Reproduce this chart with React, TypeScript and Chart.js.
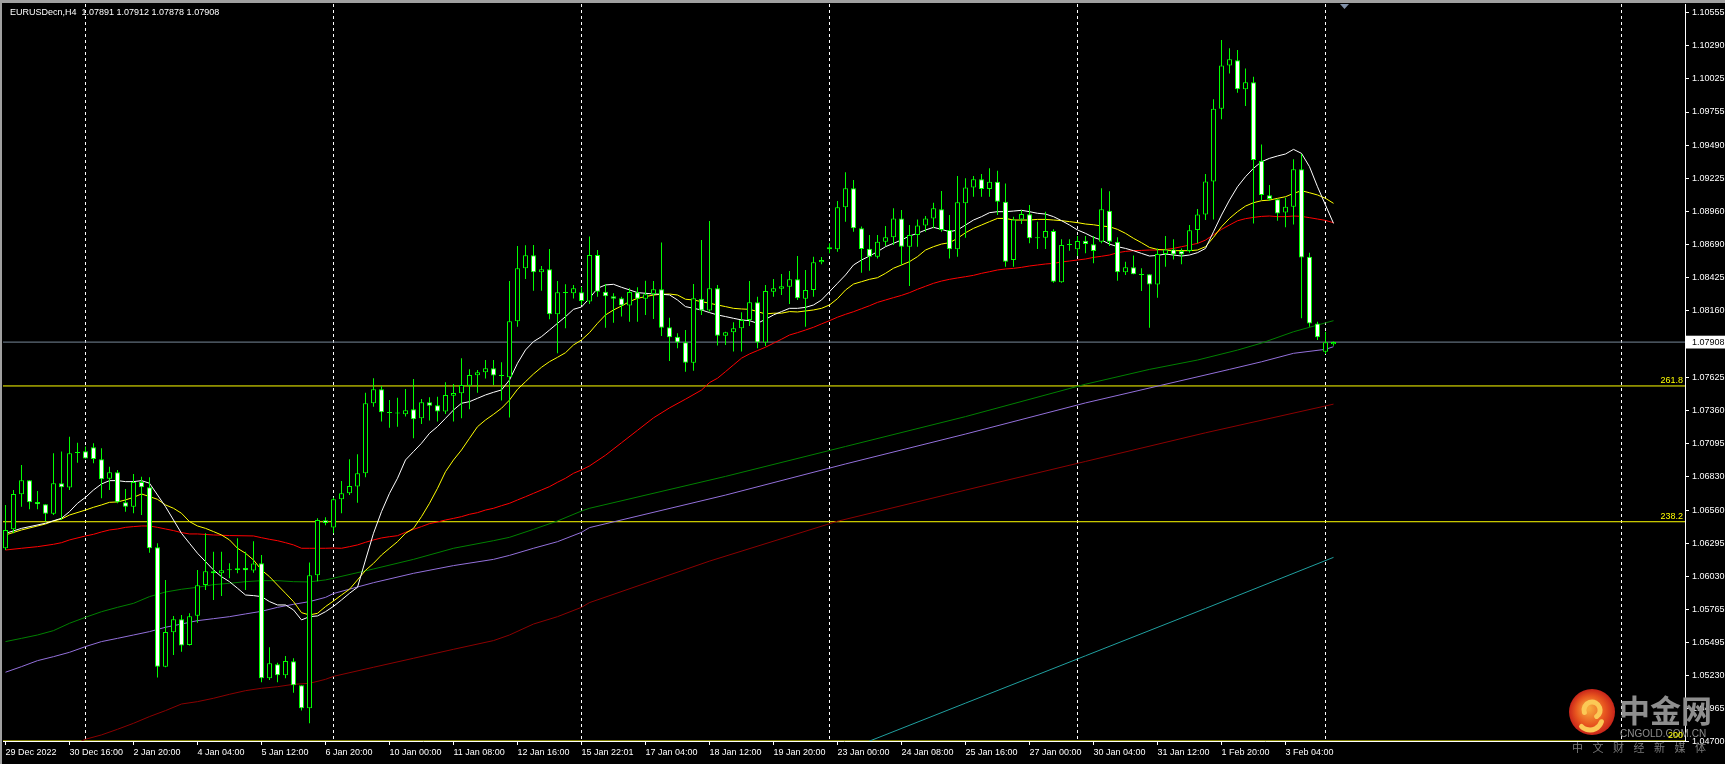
import React, { useEffect, useRef } from "react";
import { Chart, registerables } from "chart.js";
Chart.register(...registerables);

const FONT = "Liberation Sans";
const symbolName = "EURUSDecn";
const timeframe = "H4";

const opens = [
  1.06253, 1.06405, 1.06686, 1.06799, 1.06625, 1.06606, 1.06531, 1.06775, 1.0674, 1.07018,
  1.07031, 1.07064, 1.06967, 1.06812, 1.06863, 1.06622, 1.06587, 1.06785, 1.06742, 1.06261,
  1.05303, 1.05579, 1.05683, 1.05477, 1.05712, 1.05959, 1.06068, 1.06052, 1.06076, 1.06079,
  1.06095, 1.06074, 1.06132, 1.05209, 1.05322, 1.05233, 1.05346, 1.05153, 1.04968, 1.06036,
  1.06478, 1.06419, 1.06646, 1.06694, 1.06748, 1.06855, 1.07417, 1.07529, 1.07342, 1.07334,
  1.07328, 1.07368, 1.07296, 1.07425, 1.07401, 1.0735, 1.07478, 1.07497, 1.07558, 1.07641,
  1.07666, 1.07698, 1.07639, 1.07625, 1.08075, 1.085, 1.08605, 1.08468, 1.08492, 1.08131,
  1.08302, 1.083, 1.08308, 1.08233, 1.08608, 1.08313, 1.08276, 1.0826, 1.08201, 1.08308,
  1.08257, 1.08292, 1.08332, 1.08027, 1.0795, 1.07906, 1.07743, 1.08257, 1.08161, 1.0834,
  1.0796, 1.07987, 1.08019, 1.08086, 1.08228, 1.07904, 1.08313, 1.08337, 1.08353, 1.08412,
  1.08257, 1.08327, 1.08549, 1.08669, 1.08653, 1.0899, 1.09142, 1.08821, 1.08658, 1.08594,
  1.08714, 1.08749, 1.08901, 1.08674, 1.08768, 1.08843, 1.08901, 1.08974, 1.08808, 1.08653,
  1.09022, 1.0915, 1.09215, 1.09137, 1.09196, 1.09035, 1.08567, 1.08893, 1.08934, 1.08741,
  1.08746, 1.088, 1.08388, 1.08687, 1.08653, 1.08722, 1.08693, 1.08714, 1.08963, 1.08714,
  1.08468, 1.08508, 1.08449, 1.08452, 1.08371, 1.08615, 1.08652, 1.08639, 1.08639, 1.08808,
  1.08933, 1.09198, 1.09782, 1.10129, 1.1017, 1.09937, 1.09993, 1.09364, 1.09086, 1.09054,
  1.08949, 1.08995, 1.09295, 1.08594, 1.08058, 1.07831, 1.07891,
];
const highs = [
  1.06601, 1.06721, 1.06922, 1.06799, 1.06713, 1.06606, 1.07015, 1.07029, 1.07149, 1.07101,
  1.07069, 1.07096, 1.07056, 1.06908, 1.06882, 1.06729, 1.0685, 1.06828, 1.06823, 1.06293,
  1.05999, 1.0571, 1.05718, 1.05731, 1.06079, 1.06373, 1.06226, 1.06226, 1.06132, 1.06333,
  1.06226, 1.06309, 1.06199, 1.05458, 1.05335, 1.05389, 1.0537, 1.05153, 1.06138, 1.06494,
  1.06502, 1.0666, 1.06793, 1.06967, 1.07007, 1.07502, 1.07617, 1.07556, 1.07443, 1.07462,
  1.07532, 1.07612, 1.07451, 1.07465, 1.0747, 1.07585, 1.07572, 1.07778, 1.0769, 1.07684,
  1.07765, 1.07765, 1.07746, 1.08399, 1.0868, 1.08685, 1.08688, 1.08519, 1.08655, 1.08399,
  1.08372, 1.08367, 1.08353, 1.08755, 1.08648, 1.08375, 1.083, 1.08273, 1.0834, 1.08348,
  1.08401, 1.08399, 1.08707, 1.08104, 1.07979, 1.08005, 1.08375, 1.08728, 1.0888, 1.08367,
  1.07992, 1.08067, 1.08147, 1.08399, 1.08273, 1.08367, 1.08415, 1.08455, 1.08479, 1.08599,
  1.08487, 1.08594, 1.08591, 1.08701, 1.0904, 1.09271, 1.09209, 1.08835, 1.08768, 1.08768,
  1.0884, 1.08982, 1.08968, 1.08848, 1.08893, 1.0892, 1.09027, 1.09121, 1.08928, 1.09241,
  1.09223, 1.09241, 1.09257, 1.09303, 1.09284, 1.09182, 1.08915, 1.08968, 1.09009, 1.08875,
  1.08955, 1.08813, 1.08733, 1.08733, 1.0876, 1.0876, 1.0876, 1.09142, 1.09118, 1.08749,
  1.08553, 1.08604, 1.085, 1.08452, 1.0866, 1.08759, 1.08733, 1.0866, 1.08848, 1.08976,
  1.09257, 1.09857, 1.10333, 1.10266, 1.10252, 1.10105, 1.10038, 1.09495, 1.09169, 1.09054,
  1.09067, 1.09375, 1.09418, 1.08626, 1.08072, 1.07992, 1.07912,
];
const lows = [
  1.0624, 1.06373, 1.06587, 1.06566, 1.06566, 1.06467, 1.0652, 1.0648, 1.06721, 1.0694,
  1.06973, 1.06935, 1.06654, 1.06721, 1.06614, 1.06547, 1.06534, 1.0652, 1.06218, 1.05215,
  1.05298, 1.05397, 1.05423, 1.05472, 1.05656, 1.05918, 1.05838, 1.0587, 1.06012, 1.06052,
  1.05918, 1.06057, 1.05177, 1.05196, 1.05177, 1.05209, 1.05094, 1.0495, 1.04848, 1.05988,
  1.06437, 1.06373, 1.06534, 1.06681, 1.06619, 1.06823, 1.0739, 1.0727, 1.07221, 1.07229,
  1.0731, 1.07136, 1.07251, 1.07278, 1.0727, 1.07331, 1.0727, 1.07296, 1.07368, 1.07502,
  1.07615, 1.07564, 1.0744, 1.07302, 1.08032, 1.08415, 1.08321, 1.08321, 1.08091, 1.07818,
  1.08019, 1.08259, 1.08206, 1.08214, 1.08273, 1.08024, 1.08064, 1.08113, 1.08072, 1.08072,
  1.08126, 1.08094, 1.07957, 1.07757, 1.07858, 1.07671, 1.07679, 1.08126, 1.08153, 1.0788,
  1.07885, 1.07832, 1.07832, 1.08038, 1.07858, 1.07877, 1.08273, 1.08286, 1.08214, 1.08246,
  1.08032, 1.08273, 1.08533, 1.08621, 1.08634, 1.08875, 1.08794, 1.08465, 1.08481, 1.0858,
  1.0868, 1.08687, 1.08527, 1.08358, 1.08674, 1.08794, 1.08821, 1.08794, 1.0858, 1.08594,
  1.08746, 1.09075, 1.09075, 1.09075, 1.08928, 1.08513, 1.08513, 1.08856, 1.08701, 1.08655,
  1.08655, 1.08385, 1.08385, 1.08642, 1.08599, 1.08621, 1.0854, 1.08701, 1.0868, 1.08401,
  1.08446, 1.08452, 1.08318, 1.08024, 1.08264, 1.08513, 1.08572, 1.08532, 1.08626, 1.08701,
  1.08888, 1.08893, 1.09696, 1.10065, 1.0991, 1.09803, 1.08861, 1.09048, 1.09043, 1.08883,
  1.08829, 1.08853, 1.08099, 1.08032, 1.07925, 1.07812, 1.07878,
];
const closes = [
  1.064, 1.06689, 1.06799, 1.06622, 1.06606, 1.06531, 1.06775, 1.06742, 1.07015, 1.07023,
  1.06973, 1.0697, 1.06807, 1.06863, 1.06622, 1.06587, 1.06785, 1.06742, 1.06253, 1.05303,
  1.05581, 1.05683, 1.05472, 1.05707, 1.05956, 1.06068, 1.06052, 1.06076, 1.06077, 1.06092,
  1.06076, 1.0613, 1.05209, 1.0533, 1.05233, 1.05348, 1.05153, 1.04968, 1.06036, 1.0648,
  1.06456, 1.06646, 1.06694, 1.06753, 1.06855, 1.07417, 1.07529, 1.07344, 1.07339, 1.07336,
  1.0736, 1.07288, 1.07425, 1.07398, 1.0735, 1.07483, 1.075, 1.07564, 1.07644, 1.07666,
  1.07698, 1.07639, 1.07636, 1.08075, 1.085, 1.08605, 1.08468, 1.08492, 1.08131, 1.08308,
  1.08303, 1.0834, 1.08238, 1.08608, 1.08313, 1.08276, 1.08257, 1.08201, 1.08311, 1.08257,
  1.08292, 1.08332, 1.08024, 1.07947, 1.07904, 1.07743, 1.0826, 1.08161, 1.0834, 1.0796,
  1.07987, 1.08019, 1.08086, 1.08228, 1.07904, 1.08319, 1.0834, 1.08356, 1.08412, 1.0826,
  1.08327, 1.08549, 1.08567, 1.08653, 1.0899, 1.09142, 1.08821, 1.08655, 1.08594, 1.08714,
  1.08749, 1.08901, 1.08674, 1.08768, 1.08843, 1.08901, 1.08982, 1.08808, 1.08653, 1.0903,
  1.0915, 1.09215, 1.09137, 1.09196, 1.09035, 1.08554, 1.08893, 1.08936, 1.08741, 1.08742,
  1.088, 1.08393, 1.08687, 1.0869, 1.0872, 1.08695, 1.08639, 1.08974, 1.08714, 1.08468,
  1.08508, 1.08452, 1.08446, 1.08371, 1.08615, 1.08652, 1.08612, 1.08612, 1.08805, 1.08933,
  1.09198, 1.09782, 1.10129, 1.10178, 1.09937, 1.09993, 1.09369, 1.09089, 1.09056, 1.08941,
  1.08995, 1.09295, 1.08588, 1.08058, 1.07946, 1.07906, 1.07908,
];

// fast MA (white)
const whiteIdx = [0, 2, 5, 7, 8, 9, 10, 11, 12, 13, 14, 15, 16, 17, 18, 19, 20, 21, 22, 23, 24, 25, 26, 27, 28, 29, 30, 31, 32, 33, 34, 35, 36, 37, 38, 39, 40, 41, 42, 43, 44, 45, 46, 47, 48, 49, 50, 51, 52, 53, 54, 55, 56, 57, 58, 59, 60, 61, 62, 63, 64, 65, 66, 67, 68, 69, 70, 71, 72, 73, 74, 75, 76, 77, 78, 79, 80, 81, 82, 83, 84, 85, 86, 87, 88, 89, 90, 91, 92, 93, 94, 95, 96, 97, 98, 99, 100, 101, 102, 103, 104, 105, 106, 107, 108, 109, 110, 111, 112, 113, 114, 115, 116, 117, 118, 119, 120, 121, 122, 123, 124, 125, 126, 127, 128, 129, 130, 131, 132, 133, 134, 135, 136, 137, 138, 139, 140, 141, 142, 143, 144, 145, 146, 147, 148, 149, 150, 151, 152, 153, 154, 155, 156, 157, 158, 159, 160, 161, 162, 163, 164, 165, 166];
const whiteVal = [1.06373, 1.06413, 1.06454, 1.06494, 1.06547, 1.06614, 1.06662, 1.06721, 1.06769, 1.06796, 1.06796, 1.06788, 1.06788, 1.06796, 1.06775, 1.06681, 1.06587, 1.0648, 1.06373, 1.06293, 1.06213, 1.06146, 1.06079, 1.06025, 1.05985, 1.05932, 1.05878, 1.05873, 1.05865, 1.05825, 1.05798, 1.05798, 1.05758, 1.05678, 1.05704, 1.0571, 1.05744, 1.05787, 1.05838, 1.05892, 1.0594, 1.06159, 1.06373, 1.06547, 1.06694, 1.06815, 1.06962, 1.07029, 1.07096, 1.07176, 1.0723, 1.07296, 1.07363, 1.07417, 1.0743, 1.07457, 1.07484, 1.07505, 1.07524, 1.07604, 1.07738, 1.07845, 1.07912, 1.07952, 1.08005, 1.08059, 1.08112, 1.08171, 1.0819, 1.0826, 1.0834, 1.08367, 1.08372, 1.08348, 1.08327, 1.08305, 1.083, 1.08294, 1.08292, 1.08287, 1.08246, 1.08193, 1.08179, 1.08166, 1.08145, 1.08126, 1.08113, 1.08099, 1.08086, 1.0808, 1.08059, 1.08091, 1.08126, 1.08153, 1.08179, 1.08179, 1.08187, 1.08206, 1.08246, 1.08313, 1.0838, 1.08447, 1.08527, 1.08567, 1.08599, 1.08634, 1.08674, 1.08701, 1.08728, 1.0876, 1.08781, 1.08808, 1.08829, 1.08813, 1.08794, 1.08808, 1.08848, 1.08888, 1.08915, 1.08947, 1.08955, 1.08955, 1.0896, 1.08966, 1.08955, 1.08942, 1.08936, 1.08915, 1.08883, 1.08848, 1.08808, 1.08781, 1.08749, 1.08727, 1.08695, 1.08674, 1.0866, 1.08642, 1.0862, 1.08599, 1.08604, 1.08615, 1.08607, 1.08599, 1.08607, 1.08626, 1.0866, 1.08794, 1.08928, 1.09048, 1.09155, 1.09236, 1.09303, 1.09356, 1.09383, 1.09402, 1.09418, 1.09455, 1.09423, 1.09316, 1.09155, 1.09008, 1.08861];

// MA (yellow)
const yellowIdx = [0, 2, 5, 6, 7, 8, 10, 11, 12, 13, 14, 15, 16, 17, 18, 19, 20, 21, 22, 23, 24, 25, 26, 27, 28, 29, 30, 31, 32, 33, 34, 35, 36, 37, 38, 39, 40, 41, 42, 43, 44, 45, 46, 47, 48, 49, 50, 51, 52, 53, 54, 55, 56, 57, 58, 59, 60, 61, 62, 63, 64, 65, 66, 67, 68, 69, 70, 71, 72, 73, 74, 75, 76, 77, 78, 79, 80, 81, 82, 83, 84, 85, 86, 87, 88, 89, 90, 91, 92, 93, 94, 95, 96, 97, 98, 99, 100, 101, 102, 103, 104, 105, 106, 107, 108, 109, 110, 111, 112, 113, 114, 115, 116, 117, 118, 119, 120, 121, 122, 123, 124, 125, 126, 127, 128, 129, 130, 131, 132, 133, 134, 135, 136, 137, 138, 139, 140, 141, 142, 143, 144, 145, 146, 147, 148, 149, 150, 151, 152, 153, 154, 155, 156, 157, 158, 159, 160, 161, 162, 163, 164, 165, 166];
const yellowVal = [1.0636, 1.064, 1.06448, 1.06472, 1.06488, 1.0652, 1.0656, 1.06582, 1.06601, 1.06622, 1.06625, 1.06641, 1.06662, 1.06689, 1.06668, 1.06646, 1.06601, 1.06574, 1.06534, 1.06467, 1.06432, 1.06413, 1.06387, 1.0636, 1.0632, 1.06253, 1.06213, 1.06159, 1.06079, 1.06025, 1.05958, 1.05892, 1.05825, 1.05736, 1.05718, 1.05731, 1.05785, 1.0583, 1.05878, 1.05924, 1.05999, 1.06076, 1.06132, 1.06199, 1.06253, 1.06306, 1.06373, 1.06413, 1.06507, 1.06614, 1.06734, 1.06868, 1.06962, 1.07042, 1.07136, 1.07229, 1.07283, 1.07328, 1.07377, 1.07443, 1.07529, 1.0759, 1.07652, 1.07706, 1.07751, 1.07786, 1.07823, 1.07885, 1.07925, 1.07984, 1.08059, 1.08126, 1.08166, 1.08198, 1.08233, 1.0826, 1.08273, 1.08286, 1.08292, 1.08294, 1.08286, 1.08252, 1.08246, 1.08233, 1.0822, 1.08206, 1.08193, 1.08179, 1.08174, 1.08171, 1.08153, 1.08134, 1.0814, 1.0814, 1.08153, 1.0815, 1.08158, 1.08166, 1.08179, 1.08206, 1.08257, 1.08326, 1.08374, 1.08393, 1.08412, 1.08425, 1.0846, 1.08501, 1.08527, 1.08554, 1.08594, 1.08647, 1.08674, 1.08695, 1.08706, 1.08741, 1.08786, 1.08821, 1.08848, 1.08875, 1.08901, 1.08901, 1.08888, 1.08888, 1.08888, 1.08893, 1.08893, 1.08888, 1.08883, 1.08875, 1.08867, 1.08856, 1.0885, 1.0884, 1.08834, 1.08813, 1.08781, 1.08741, 1.08706, 1.08668, 1.08652, 1.08647, 1.08642, 1.08642, 1.08642, 1.08647, 1.08674, 1.08749, 1.08834, 1.08901, 1.08955, 1.09, 1.09027, 1.09043, 1.09048, 1.09062, 1.09075, 1.09102, 1.09123, 1.09107, 1.09089, 1.09062, 1.09022];

// MA (red)
const redIdx = [0, 2, 4, 6, 7, 8, 10, 11, 12, 13, 14, 15, 16, 17, 18, 19, 20, 21, 22, 23, 24, 26, 28, 31, 32, 33, 34, 35, 36, 37, 38, 40, 41, 42, 43, 44, 45, 46, 47, 48, 49, 50, 51, 52, 53, 54, 55, 56, 57, 58, 59, 60, 61, 62, 63, 64, 65, 66, 67, 68, 69, 70, 71, 72, 73, 75, 77, 79, 81, 83, 85, 87, 88, 89, 90, 91, 92, 93, 94, 95, 96, 97, 98, 99, 100, 101, 102, 103, 104, 105, 106, 107, 108, 109, 110, 111, 112, 113, 114, 115, 116, 117, 118, 119, 120, 121, 122, 123, 124, 125, 126, 127, 128, 129, 130, 131, 132, 133, 134, 135, 136, 137, 138, 139, 140, 141, 142, 143, 144, 145, 146, 147, 148, 149, 150, 151, 152, 153, 154, 155, 156, 157, 158, 159, 160, 161, 162, 163, 164, 165, 166];
const redVal = [1.06239, 1.06253, 1.06266, 1.06285, 1.06298, 1.0632, 1.06352, 1.06365, 1.06384, 1.064, 1.06408, 1.06421, 1.06427, 1.06432, 1.06432, 1.06421, 1.06408, 1.06395, 1.06379, 1.06368, 1.06368, 1.0636, 1.06355, 1.06352, 1.06338, 1.06325, 1.06314, 1.06298, 1.0628, 1.06253, 1.06253, 1.06253, 1.06255, 1.06253, 1.06266, 1.0628, 1.06301, 1.0632, 1.06336, 1.06346, 1.06354, 1.06381, 1.06405, 1.06427, 1.06451, 1.06464, 1.0648, 1.06493, 1.06507, 1.06526, 1.06539, 1.0656, 1.06574, 1.06595, 1.06614, 1.06641, 1.06667, 1.06694, 1.06721, 1.06748, 1.06783, 1.06815, 1.06855, 1.06882, 1.06914, 1.07, 1.071, 1.072, 1.073, 1.0738, 1.0745, 1.07523, 1.07583, 1.07618, 1.07671, 1.07725, 1.07779, 1.07813, 1.0784, 1.07867, 1.07899, 1.07931, 1.07965, 1.07984, 1.08005, 1.08027, 1.08054, 1.0808, 1.08108, 1.08131, 1.08152, 1.08176, 1.082, 1.08227, 1.08246, 1.08265, 1.08283, 1.08305, 1.08332, 1.08356, 1.0838, 1.08398, 1.08412, 1.08423, 1.08433, 1.08444, 1.0846, 1.08473, 1.08487, 1.08495, 1.085, 1.08508, 1.08519, 1.08527, 1.08535, 1.0854, 1.08551, 1.08559, 1.08567, 1.08575, 1.08588, 1.08597, 1.08607, 1.08626, 1.08636, 1.08642, 1.08644, 1.08647, 1.08647, 1.08652, 1.0866, 1.08674, 1.08687, 1.087, 1.08727, 1.0877, 1.08813, 1.08848, 1.08882, 1.08899, 1.08909, 1.08917, 1.0892, 1.08915, 1.08915, 1.0892, 1.08917, 1.08907, 1.08896, 1.08885, 1.08866];

// MA (green)
const greenIdx = [0, 2, 4, 6, 8, 10, 12, 14, 16, 18, 20, 22, 24, 26, 28, 30, 32, 34, 36, 38, 40, 41, 46, 51, 56, 61, 63, 66, 69, 72, 73, 90, 105, 120, 135, 143, 149, 154, 157, 161, 164, 166];
const greenVal = [1.05504, 1.0553, 1.05557, 1.05592, 1.05651, 1.05699, 1.05744, 1.05779, 1.05811, 1.05865, 1.05902, 1.05924, 1.0594, 1.05961, 1.05972, 1.05985, 1.05993, 1.05993, 1.05985, 1.05983, 1.05999, 1.06013, 1.06087, 1.06164, 1.06253, 1.06314, 1.06341, 1.06405, 1.06472, 1.06552, 1.06574, 1.0683, 1.0707, 1.0731, 1.0757, 1.07689, 1.07764, 1.07844, 1.079, 1.07991, 1.08045, 1.0808];

// MA (purple)
const purpleIdx = [0, 2, 4, 6, 8, 10, 12, 14, 16, 18, 20, 22, 24, 26, 28, 30, 32, 34, 36, 38, 40, 41, 46, 51, 56, 61, 63, 66, 69, 72, 73, 90, 105, 120, 135, 153, 157, 161, 165, 166];
const purpleVal = [1.05258, 1.05303, 1.05351, 1.05383, 1.05418, 1.05464, 1.05504, 1.0553, 1.05557, 1.05584, 1.05619, 1.05645, 1.05672, 1.05688, 1.05704, 1.05726, 1.05747, 1.05779, 1.05803, 1.05825, 1.05859, 1.0589, 1.05977, 1.06052, 1.06114, 1.06164, 1.06196, 1.06253, 1.06306, 1.06381, 1.06419, 1.0668, 1.0693, 1.0717, 1.0742, 1.07689, 1.0775, 1.07818, 1.0785, 1.07871];

// MA (dark red)
const maroonIdx = [9, 10, 12, 14, 16, 18, 20, 22, 24, 26, 28, 30, 32, 34, 36, 38, 40, 41, 46, 51, 56, 61, 63, 66, 69, 72, 73, 88, 104, 120, 135, 150, 166];
const maroonVal = [1.0469, 1.0472, 1.04755, 1.048, 1.04848, 1.04902, 1.0495, 1.05003, 1.05022, 1.05049, 1.05081, 1.0511, 1.05129, 1.05142, 1.05161, 1.05169, 1.05201, 1.05225, 1.05298, 1.0537, 1.05442, 1.05512, 1.05557, 1.05645, 1.05704, 1.05779, 1.05817, 1.0615, 1.0647, 1.0672, 1.0695, 1.0718, 1.0741];

// MA (teal)
const tealIdx = [107, 120, 135, 150, 166];
const tealVal = [1.0468, 1.0501, 1.0539, 1.0577, 1.0618];

const xTickIdx = [0, 8, 16, 24, 32, 40, 48, 56, 64, 72, 80, 88, 96, 104, 112, 120, 128, 136, 144, 152, 160];
const xTickLabels = [
  "29 Dec 2022", "30 Dec 16:00", "2 Jan 20:00", "4 Jan 04:00", "5 Jan 12:00", "6 Jan 20:00",
  "10 Jan 00:00", "11 Jan 08:00", "12 Jan 16:00", "15 Jan 22:01", "17 Jan 04:00", "18 Jan 12:00",
  "19 Jan 20:00", "23 Jan 00:00", "24 Jan 08:00", "25 Jan 16:00", "27 Jan 00:00", "30 Jan 04:00",
  "31 Jan 12:00", "1 Feb 20:00", "3 Feb 04:00",
];
const separatorIdx = [10, 41, 72, 103, 134, 165, 202];
const priceTicks = [
  1.047, 1.04965, 1.0523, 1.05495, 1.05765, 1.0603, 1.06295, 1.0656, 1.0683, 1.07095, 1.0736,
  1.07625, 1.0816, 1.08425, 1.0869, 1.0896, 1.09225, 1.0949, 1.09755, 1.10025, 1.1029, 1.10555,
];
const currentPrice = 1.07908;
const fibLevels = [1.07556, 1.06466, 1.04706];
const fibLabels = ["261.8", "238.2", "200"];

const X_MIN = -0.3125;
const X_MAX = 209.9375;
const Y_MIN = 1.04706;
const Y_MAX = 1.10622;

const pts = (idx: number[], val: number[]) => idx.map((x, i) => ({ x, y: val[i] }));
const hline = (v: number) => [{ x: X_MIN - 1, y: v }, { x: X_MAX + 1, y: v }];

const maLine = (label: string, data: any[], color: string, order: number) => ({
  type: "line" as const,
  label,
  data,
  borderColor: color,
  borderWidth: 1,
  pointRadius: 0,
  fill: false,
  tension: 0,
  order,
});

const decorPlugin = {
  id: "mt4decor",
  beforeDraw(chart: any) {
    const { ctx, width, height } = chart;
    ctx.save();
    ctx.fillStyle = "#000000";
    ctx.fillRect(0, 0, width, height);
    ctx.fillStyle = "#a0a0a0";
    ctx.fillRect(0, 0, width, 3);
    ctx.fillRect(0, 0, 2, height);
    ctx.restore();
  },
  afterDraw(chart: any) {
    const { ctx, chartArea } = chart;
    const ys = chart.scales.y;
    ctx.save();
    // title
    const last = opens.length - 1;
    const title = `${symbolName},${timeframe}  ${opens[last].toFixed(5)} ${highs[last].toFixed(5)} ${lows[last].toFixed(5)} ${closes[last].toFixed(5)}`;
    ctx.font = `9px "${FONT}"`;
    ctx.fillStyle = "#ffffff";
    ctx.textBaseline = "middle";
    ctx.textAlign = "left";
    ctx.fillText(title, 10, 13);
    // chart shift marker
    ctx.fillStyle = "#8090a8";
    ctx.beginPath();
    ctx.moveTo(1340, 4);
    ctx.lineTo(1349, 4);
    ctx.lineTo(1344.5, 9);
    ctx.closePath();
    ctx.fill();
    // watermark
    const cx = 1592, cy = 712, r = 23;
    const g = ctx.createRadialGradient(cx - 4, cy - 4, 2, cx, cy, r);
    g.addColorStop(0, "#f7a93c");
    g.addColorStop(0.6, "#e8561f");
    g.addColorStop(1, "#c8241a");
    ctx.fillStyle = g;
    ctx.beginPath();
    ctx.arc(cx, cy, r, 0, Math.PI * 2);
    ctx.fill();
    ctx.strokeStyle = "#fbc956";
    ctx.lineWidth = 5;
    ctx.lineCap = "round";
    ctx.beginPath();
    ctx.arc(cx, cy - 2, 8, Math.PI * 0.9, Math.PI * 2.3);
    ctx.stroke();
    ctx.beginPath();
    ctx.arc(cx - 2, cy + 6, 12, Math.PI * 0.1, Math.PI * 0.75);
    ctx.stroke();
    ctx.fillStyle = "#8e8e8e";
    ctx.textAlign = "left";
    ctx.textBaseline = "middle";
    ctx.font = `bold 31px "Noto Sans CJK SC"`;
    ctx.fillText("中金网", 1619, 710);
    ctx.font = `10px "${FONT}"`;
    ctx.fillText("CNGOLD.COM.CN", 1620, 734);
    ctx.fillStyle = "#7a7a7a";
    ctx.font = `11px "Noto Sans CJK SC"`;
    const sub = ["中", "文", "财", "经", "新", "媒", "体"];
    sub.forEach((ch, i) => ctx.fillText(ch, 1572 + i * 20.5, 748));
    // fib labels (on top of watermark)
    ctx.font = `9px "${FONT}"`;
    ctx.fillStyle = "#ffff00";
    ctx.textAlign = "right";
    ctx.textBaseline = "alphabetic";
    fibLevels.forEach((lv, i) => {
      const y = ys.getPixelForValue(lv);
      ctx.fillText(fibLabels[i], chartArea.right - 2, y - 3);
    });
    ctx.restore();
  },
};

export default function App() {
  const ref = useRef<HTMLCanvasElement | null>(null);
  useEffect(() => {
    if (!ref.current) return;
    const bodyData = opens.map((o, i) => ({ x: i, y: [o, closes[i]] }));
    const wickData = lows.map((l, i) => ({ x: i, y: [l, highs[i]] }));
    const font = { family: FONT, size: 9 };
    const chart = new Chart(ref.current, {
      type: "bar",
      data: {
        datasets: [
          {
            type: "bar",
            label: "body",
            data: bodyData as any,
            backgroundColor: closes.map((c, i) => (c > opens[i] ? "#000000" : "#ffffff")),
            borderColor: "#00ff00",
            borderWidth: 1,
            borderSkipped: false,
            barThickness: 5,
            minBarLength: 1,
            grouped: false,
            inflateAmount: 0,
            order: 0,
          } as any,
          {
            type: "bar",
            label: "wick",
            data: wickData as any,
            backgroundColor: "#00ff00",
            borderWidth: 0,
            barThickness: 1,
            grouped: false,
            inflateAmount: 0,
            order: 1,
          } as any,
          maLine("ma-white", pts(whiteIdx, whiteVal), "#ffffff", 2),
          maLine("ma-yellow", pts(yellowIdx, yellowVal), "#ffff00", 3),
          maLine("ma-red", pts(redIdx, redVal), "#ff0000", 4),
          maLine("ma-green", pts(greenIdx, greenVal), "#008000", 5),
          maLine("ma-purple", pts(purpleIdx, purpleVal), "#9370db", 6),
          maLine("ma-maroon", pts(maroonIdx, maroonVal), "#8b0000", 7),
          maLine("ma-teal", pts(tealIdx, tealVal), "#20a0a0", 8),
          ...fibLevels.map((lv, i) => maLine("fib" + fibLabels[i], hline(lv), "#ffff00", 9)),
          maLine("price", hline(currentPrice), "#778899", 10),
        ] as any,
      },
      options: {
        animation: false,
        responsive: true,
        maintainAspectRatio: false,
        devicePixelRatio: 1,
        events: [],
        layout: { padding: { left: 3, top: 4, right: 0, bottom: 0 } },
        plugins: { legend: { display: false }, tooltip: { enabled: false }, title: { display: false } },
        scales: {
          x: {
            type: "linear",
            position: "bottom",
            min: X_MIN,
            max: X_MAX,
            offset: false,
            afterBuildTicks: (s: any) => {
              s.ticks = xTickIdx.map((v) => ({ value: v }));
            },
            afterFit: (s: any) => {
              s.height = 23;
              s.paddingLeft = 0;
              s.paddingRight = 0;
            },
            ticks: {
              autoSkip: false,
              maxRotation: 0,
              minRotation: 0,
              align: "start",
              color: "#ffffff",
              padding: 2,
              font,
              callback: (v: any) => {
                const i = xTickIdx.indexOf(Number(v));
                return i >= 0 ? xTickLabels[i] : "";
              },
            },
            grid: { display: true, drawOnChartArea: false, drawTicks: true, tickLength: 4, color: "#ffffff", offset: false },
            border: { display: true, color: "#ffffff", width: 1 },
          },
          xsep: {
            type: "linear",
            position: "top",
            min: X_MIN,
            max: X_MAX,
            offset: false,
            afterBuildTicks: (s: any) => {
              s.ticks = separatorIdx.map((v) => ({ value: v }));
            },
            afterFit: (s: any) => {
              s.height = 0;
              s.paddingLeft = 0;
              s.paddingRight = 0;
            },
            ticks: { display: false },
            grid: { display: true, drawOnChartArea: true, drawTicks: false, color: "#ffffff", lineWidth: 1, offset: false },
            border: { display: false, dash: [3, 3] },
          },
          y: {
            type: "linear",
            position: "right",
            min: Y_MIN,
            max: Y_MAX,
            afterBuildTicks: (s: any) => {
              s.ticks = [...priceTicks, currentPrice].sort((a, b) => a - b).map((v) => ({ value: v }));
            },
            afterFit: (s: any) => {
              s.width = 40;
              s.paddingTop = 0;
              s.paddingBottom = 0;
            },
            ticks: {
              autoSkip: false,
              padding: 3,
              font,
              color: (c: any) => (c.tick && c.tick.value === currentPrice ? "#000000" : "#ffffff"),
              showLabelBackdrop: (c: any) => !!(c.tick && c.tick.value === currentPrice),
              backdropColor: "#ffffff",
              backdropPadding: { top: 1, bottom: 1, left: 6, right: 6 },
              callback: (v: any) => Number(v).toFixed(5),
            },
            grid: { display: true, drawOnChartArea: false, drawTicks: true, tickLength: 4, color: "#ffffff" },
            border: { display: true, color: "#ffffff", width: 1 },
          },
        },
      } as any,
      plugins: [decorPlugin],
    });
    return () => chart.destroy();
  }, []);
  return (
    <div style={{ position: "absolute", left: 0, top: 0, width: 1725, height: 764, background: "#000" }}>
      <canvas ref={ref} />
    </div>
  );
}
